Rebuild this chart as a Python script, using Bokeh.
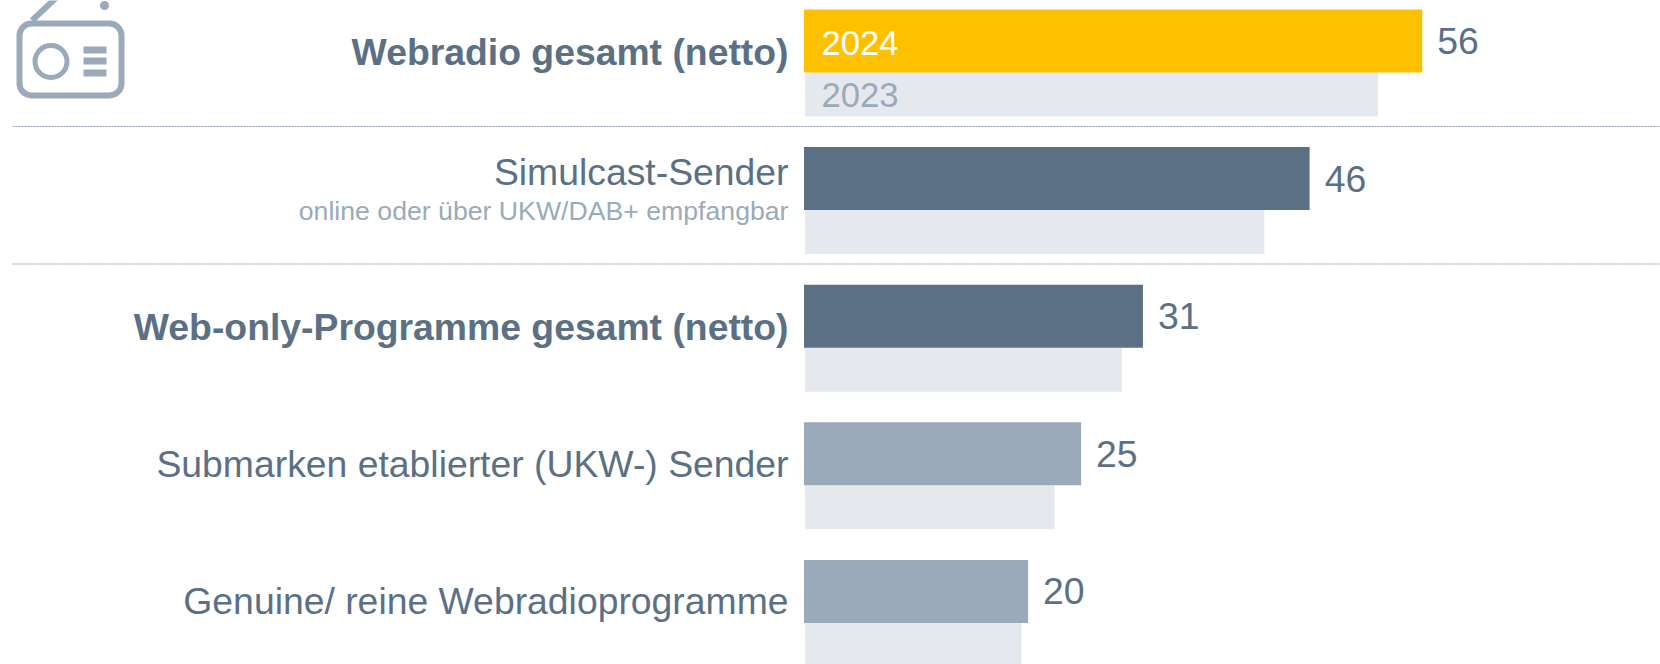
from bokeh.plotting import figure
from bokeh.models import Range1d, ColumnDataSource
from bokeh.core.properties import value
from bokeh.embed import file_html
from bokeh.resources import INLINE

categories = ["Webradio gesamt (netto)", "Simulcast-Sender", "Web-only-Programme gesamt (netto)",
              "Submarken etablierter (UKW-) Sender", "Genuine/ reine Webradioprogramme"]
values_2024 = [56.0, 45.8, 30.7, 25.1, 20.3]
values_2023 = [52.0, 41.7, 28.8, 22.7, 19.7]
value_labels = ["56", "46", "31", "25", "20"]
bar_colors = ["#FFC000", "#5B7085", "#5B7085", "#9AAABB", "#9AAABB"]
bold = ["bold", "normal", "bold", "normal", "normal"]

W, H = 1660, 664
OFF = 0
PPU = 11.04
PITCH = 137.6
X0 = 803.5 - OFF
Y0 = 9 - OFF
FONT = value("Liberation Sans")
DARK, MID, LIGHT = "#5B7085", "#9AAABB", "#E5E9EE"

def px(x):
    return (x - OFF - X0) / PPU
def py(y):
    return (y - OFF - Y0) / PITCH

p = figure(width=W, height=H, output_backend="svg", toolbar_location=None,
           x_range=Range1d(-X0 / PPU, (W - X0) / PPU),
           y_range=Range1d((H - Y0) / PITCH, -Y0 / PITCH),
           min_border=0, outline_line_color=None, background_fill_color="white")
p.axis.visible = False
p.grid.visible = False

rows = list(range(len(categories)))
BAR_H = 63 / PITCH
OLD_H = 44 / PITCH
src = ColumnDataSource(dict(
    top=[r for r in rows],
    bottom=[r + BAR_H for r in rows],
    right=values_2024,
    color=bar_colors,
    top23=[r + BAR_H for r in rows],
    bottom23=[r + BAR_H + OLD_H for r in rows],
    right23=values_2023,
    label_x=[v + 15 / PPU for v in values_2024],
    label_y=[r + 31.5 / PITCH for r in rows],
    text=value_labels,
))
p.quad(left=1 / PPU, right="right23", top="top23", bottom="bottom23", source=src,
       fill_color=LIGHT, line_color=None)
p.quad(left=0, right="right", top="top", bottom="bottom", source=src,
       fill_color="color", line_color=None)
p.text(x="label_x", y="label_y", text="text", source=src, text_font=FONT,
       text_font_size="37.33px", text_color=DARK, text_baseline="middle", text_align="left")

# category labels
label_ys = [51, 171.5, 326, 463, 600]
for cat, ly, w in zip(categories, label_ys, bold):
    p.text(x=[px(788)], y=[py(ly)], text=[cat], text_font=FONT, text_font_size="37.33px",
           text_font_style=w, text_color=DARK, text_align="right", text_baseline="middle")
p.text(x=[px(788)], y=[py(210.5)], text=["online oder über UKW/DAB+ empfangbar"], text_font=FONT,
       text_font_size="26.67px", text_color=MID, text_align="right", text_baseline="middle")

# year labels
p.text(x=[px(821)], y=[py(42.5)], text=["2024"], text_font=FONT, text_font_size="34.67px",
       text_color="white", text_baseline="middle")
p.text(x=[px(821)], y=[py(94.5)], text=["2023"], text_font=FONT, text_font_size="34.67px",
       text_color=MID, text_baseline="middle")

# dotted separators
for sy in (126, 263.5):
    p.line(x=[px(12), px(1660)], y=[py(sy), py(sy)], line_color="#8A97A8", line_width=1, line_dash="2 1")

# radio icon
p.quad(left=[px(19)], right=[px(121)], top=[py(23)], bottom=[py(95)], fill_color=None,
       line_color=MID, line_width=6, border_radius=12)
p.circle(x=[px(50.5)], y=[py(61)], radius=16 / PPU, fill_color=None, line_color=MID, line_width=5,
         radius_dimension="x")
for a, b in ((46, 53), (57, 64), (69, 76)):
    p.quad(left=[px(83)], right=[px(106)], top=[py(a)], bottom=[py(b)], fill_color=MID, line_color=None)
p.line(x=[px(31.5), px(57)], y=[py(20), py(-4)], line_color=MID, line_width=6)
p.circle(x=[px(104)], y=[py(5)], radius=4.5 / PPU, fill_color=MID, line_color=None, radius_dimension="x")

open("out.html", "w").write(file_html(p, INLINE))
